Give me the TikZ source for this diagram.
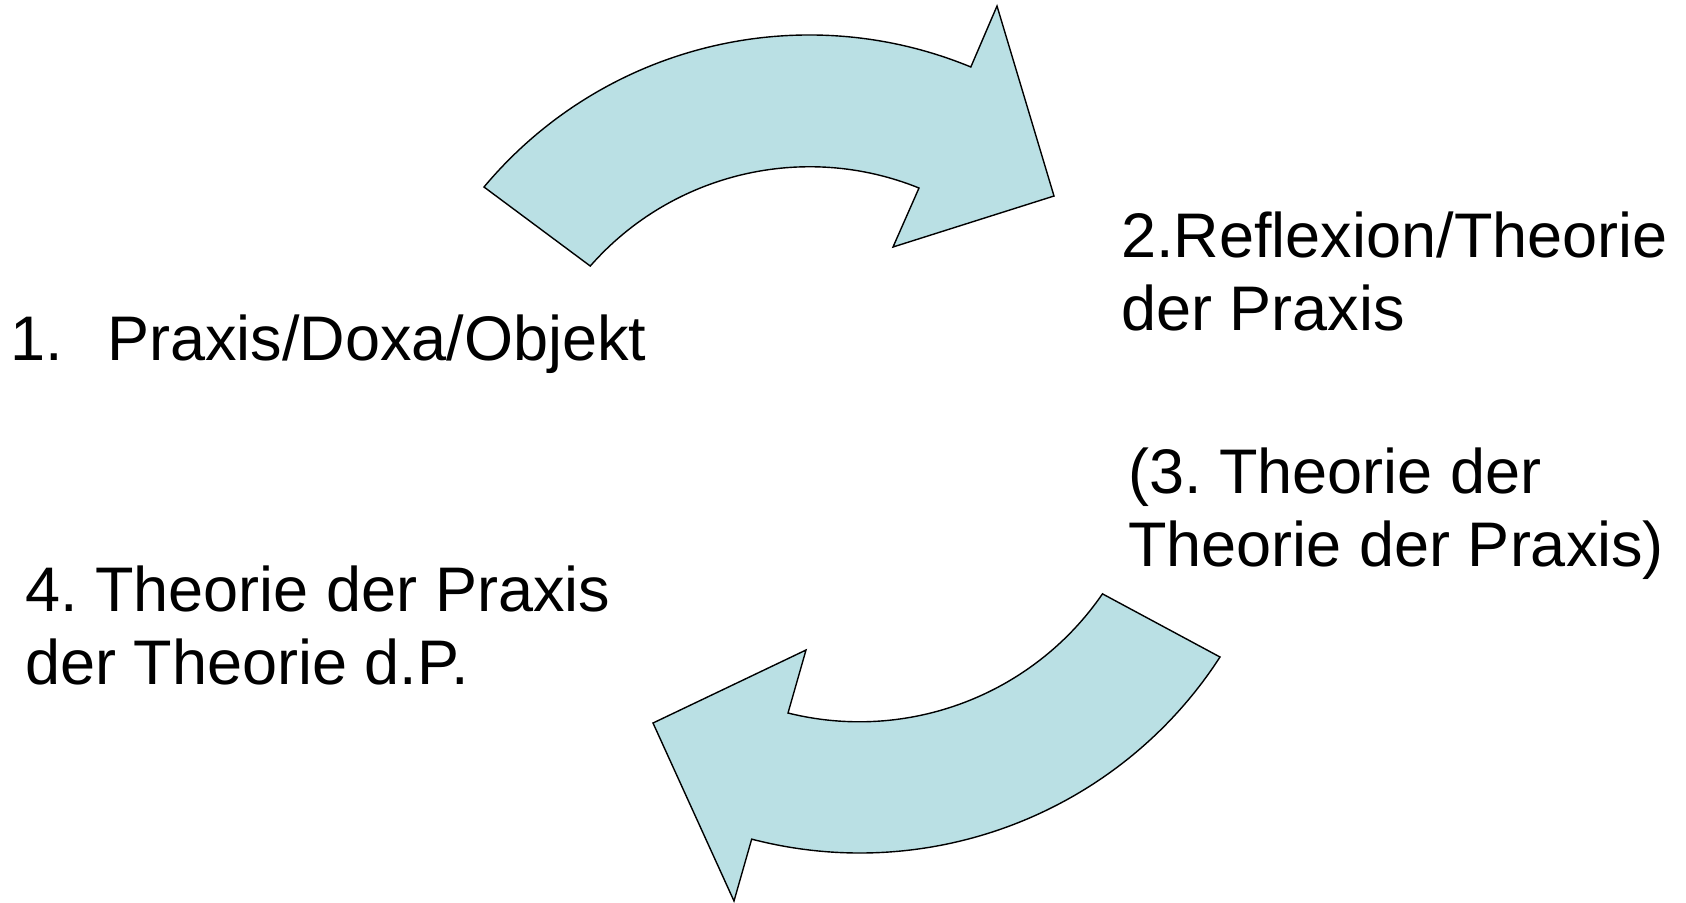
\documentclass[tikz,border=0pt]{standalone}
\usepackage{fontspec}
\setmainfont{Liberation Sans}
\usepackage{tikz}
\usetikzlibrary{positioning}
\definecolor{arrowblue}{RGB}{186,224,228}
\tikzset{
  bendarrow/.style={draw=black, fill=arrowblue, line width=0.7pt, line join=miter},
  lbl/.style={anchor=base west, inner sep=0pt, align=left, font=\fontsize{31.5}{36.5}\selectfont\frenchspacing},
}

\begin{document}
\begin{tikzpicture}[x=0.5pt,y=0.5pt]
\useasboundingbox (0,0) rectangle (1686,-902);
% upper arrow, from 1 to 2
\draw[bendarrow] (484,-187) arc[start angle=140.1, end angle=67.6, radius=424] -- (997,-6) -- (1054,-196) -- (893,-247) -- (919,-188) arc[start angle=68, end angle=138.7, radius=292] -- cycle;
% lower arrow, from 3 to 4
\draw[bendarrow] (1220,-657) arc[start angle=-32.9, end angle=-104.6, radius=429] -- (734,-901) -- (653,-723) -- (806,-650) -- (788,-713) arc[start angle=-104, end angle=-34.5, radius=295] -- cycle;
% labels (base = last line)
\node[lbl] (praxis) at (10,-360) {\makebox[48.5pt][l]{1.}Praxis/Doxa/Objekt};
\node[lbl] (reflexion) at (1121,-330) {2.Reflexion/Theorie\\der Praxis};
\node[lbl] (theotheo) at (1128,-566) {(3. Theorie der\\Theorie der Praxis)};
\node[lbl] (praxtheo) at (25,-684) {4. Theorie der Praxis\\der Theorie d.P.};
\end{tikzpicture}
\end{document}
